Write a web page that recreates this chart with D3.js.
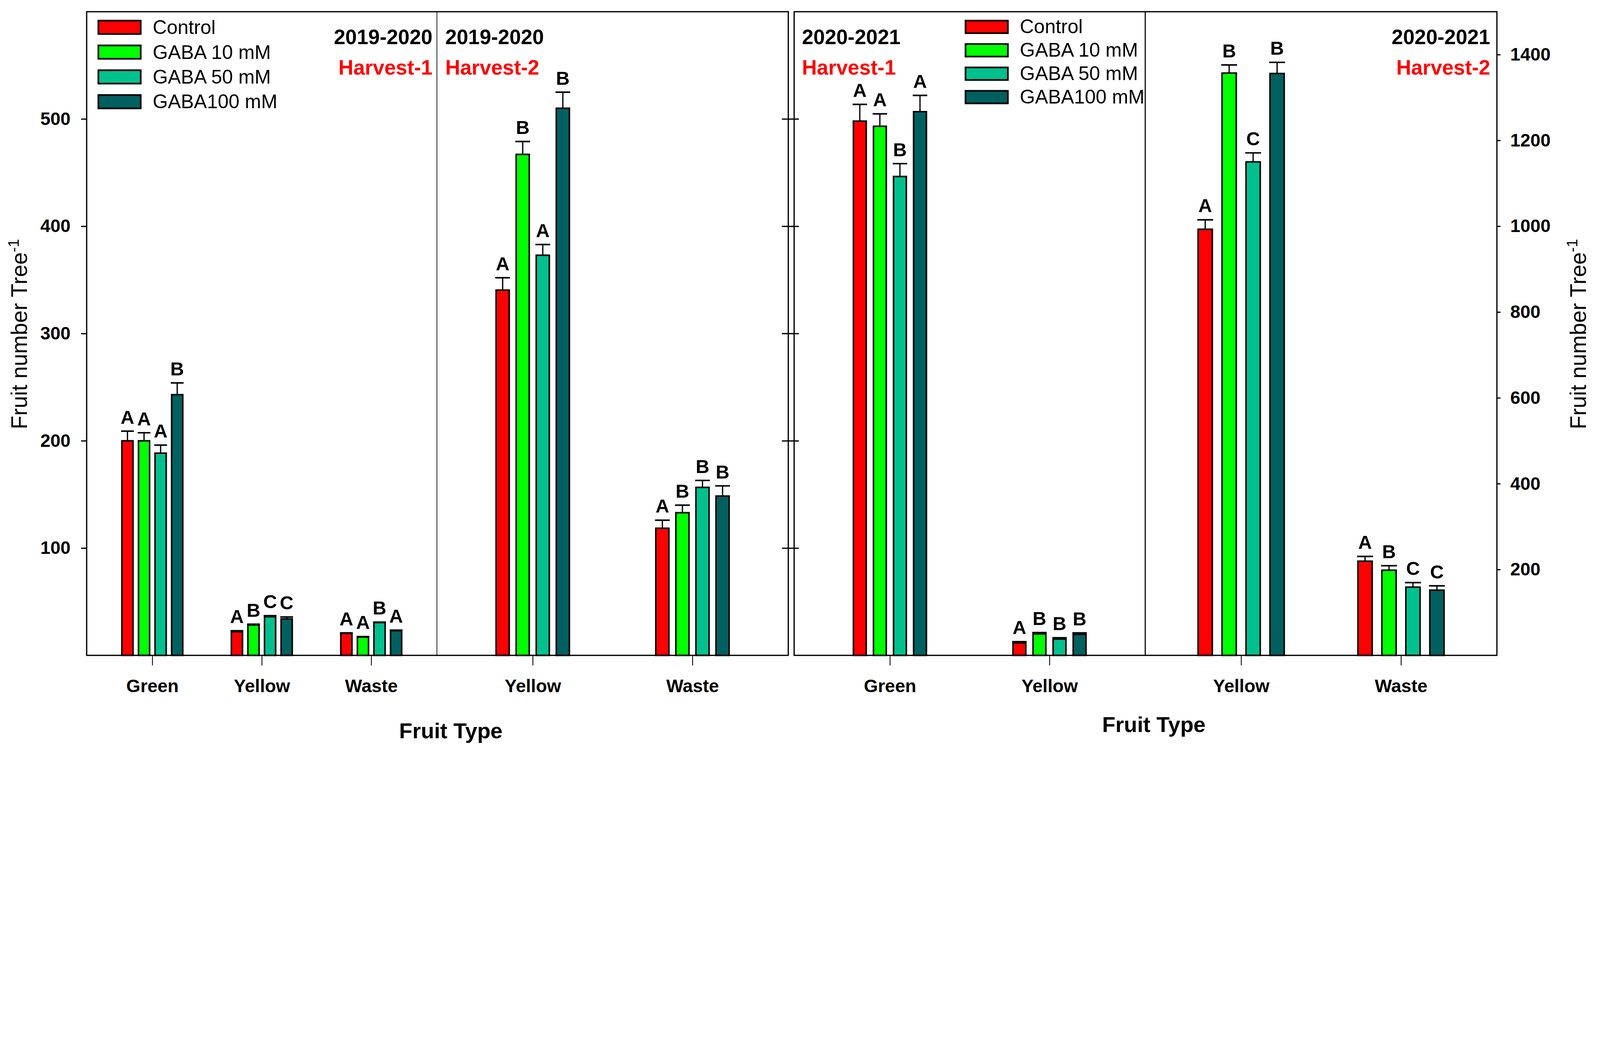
<!DOCTYPE html>
<html>
<head>
<meta charset="utf-8">
<title>Fruit number per tree</title>
<style>
  html, body { margin: 0; padding: 0; background: #fff; overflow: hidden; }
  svg { display: block; width: 100vw; height: 100vh; font-family: "Liberation Sans", Arial, sans-serif; }
</style>
</head>
<body>
<svg viewBox="0 0 5742 2706" preserveAspectRatio="xMinYMin meet"></svg>
<script src="https://d3js.org/d3.v7.min.js"></script>
<script>

// ---- data ----
var treatments = ["Control", "GABA 10 mM", "GABA 50 mM", "GABA100 mM"];
var colors = ["#ff0000", "#00ff00", "#00c08e", "#006060"];

// 2019-2020, Harvest-1 (left axis)
var h1aCats = ["Green", "Yellow", "Waste"];
var h1aMeans = [[200, 200, 188.5, 243], [22, 28.3, 36, 34], [20.5, 17, 30.6, 23]];
var h1aErrs = [[9, 7.5, 7.5, 11], [1, 0.8, 1, 1.8], [0.5, 0.5, 0.4, 0.5]];
var h1aLetters = [["A", "A", "A", "B"], ["A", "B", "C", "C"], ["A", "A", "B", "A"]];

// 2019-2020, Harvest-2 (left axis)
var h2aCats = ["Yellow", "Waste"];
var h2aMeans = [[340.5, 467, 373, 510], [118.5, 133, 156.6, 148.5]];
var h2aErrs = [[11.5, 12, 10, 15], [7.5, 7, 6.5, 9.5]];
var h2aLetters = [["A", "B", "A", "B"], ["A", "B", "B", "B"]];

// 2020-2021, Harvest-1 (right axis)
var h1bCats = ["Green", "Yellow"];
var h1bMeans = [[1245, 1233, 1116, 1267], [29, 50, 38, 49]];
var h1bErrs = [[39, 29, 30, 38], [3, 3, 3, 3.5]];
var h1bLetters = [["A", "A", "B", "A"], ["A", "B", "B", "B"]];

// 2020-2021, Harvest-2 (right axis)
var h2bCats = ["Yellow", "Waste"];
var h2bMeans = [[993, 1357, 1150, 1356], [219.5, 198.5, 159, 152]];
var h2bErrs = [[22, 19, 21, 26], [11, 10.5, 10.5, 10]];
var h2bLetters = [["A", "B", "C", "B"], ["A", "B", "C", "C"]];

var leftTicks = [100, 200, 300, 400, 500];
var rightTicks = [200, 400, 600, 800, 1000, 1200, 1400];

// ---- layout ----
var svg = d3.select("svg");
var plotTop = 42, base = 2352;

var yL = d3.scaleLinear().domain([0, 600]).range([base, plotTop]);
var yR = d3.scaleLinear().domain([0, 1500]).range([base, plotTop]);

var panels = [
  {cats: h1aCats, means: h1aMeans, errs: h1aErrs, letters: h1aLetters, x0: 311, x1: 1568, y: yL, step: 59.5, bw: 40},
  {cats: h2aCats, means: h2aMeans, errs: h2aErrs, letters: h2aLetters, x0: 1568, x1: 2829, y: yL, step: 72, bw: 47},
  {cats: h1bCats, means: h1bMeans, errs: h1bErrs, letters: h1bLetters, x0: 2850, x1: 4110, y: yR, step: 72, bw: 46},
  {cats: h2bCats, means: h2bMeans, errs: h2bErrs, letters: h2bLetters, x0: 4110, x1: 5372, y: yR, step: 86, bw: 51}
];

panels.forEach(function(p) {
  var x = d3.scalePoint().domain(p.cats).range([p.x0, p.x1]).padding(0.6);
  var sub = d3.scaleBand().domain(treatments)
      .range([-2 * p.step, 2 * p.step])
      .paddingInner(1 - p.bw / p.step)
      .paddingOuter((1 - p.bw / p.step) / 2);

  var rows = [];
  p.cats.forEach(function(c, i) {
    treatments.forEach(function(t, j) {
      rows.push({cat: c, t: t, j: j, v: p.means[i][j], e: p.errs[i][j], l: p.letters[i][j]});
    });
  });

  var g = svg.append("g");
  var cx = function(d) { return x(d.cat) + sub(d.t) + sub.bandwidth() / 2; };

  g.selectAll("rect").data(rows).enter().append("rect")
      .attr("x", function(d) { return x(d.cat) + sub(d.t); })
      .attr("y", function(d) { return p.y(d.v); })
      .attr("width", sub.bandwidth())
      .attr("height", function(d) { return base - p.y(d.v); })
      .attr("fill", function(d) { return colors[d.j]; })
      .attr("stroke", "#000")
      .attr("stroke-width", 5.5);

  g.selectAll(".err").data(rows).enter().append("line")
      .attr("class", "err")
      .attr("x1", cx).attr("x2", cx)
      .attr("y1", function(d) { return p.y(d.v); })
      .attr("y2", function(d) { return p.y(d.v + d.e); })
      .attr("stroke", "#000").attr("stroke-width", 4.5);

  g.selectAll(".cap").data(rows).enter().append("line")
      .attr("class", "cap")
      .attr("x1", function(d) { return cx(d) - sub.bandwidth() / 2 - 3; })
      .attr("x2", function(d) { return cx(d) + sub.bandwidth() / 2 + 3; })
      .attr("y1", function(d) { return p.y(d.v + d.e); })
      .attr("y2", function(d) { return p.y(d.v + d.e); })
      .attr("stroke", "#000").attr("stroke-width", 5.5);

  g.selectAll(".lab").data(rows).enter().append("text")
      .attr("class", "lab")
      .attr("x", cx)
      .attr("y", function(d) { return p.y(d.v + d.e) - 27; })
      .attr("text-anchor", "middle")
      .attr("font-size", 68).attr("font-weight", "bold")
      .text(function(d) { return d.l; });

  // category axis
  var ax = svg.append("g")
      .attr("transform", "translate(0," + base + ")")
      .call(d3.axisBottom(x).tickSize(36).tickPadding(50));
  ax.select(".domain").remove();
  ax.selectAll("line").attr("stroke-width", 3);
  ax.selectAll("text").attr("font-size", 65).attr("font-weight", "bold")
      .attr("font-family", "Liberation Sans, Arial, sans-serif");
});

// frames
function frame(x0, x1) {
  svg.append("rect").attr("x", x0).attr("y", plotTop)
      .attr("width", x1 - x0).attr("height", base - plotTop)
      .attr("fill", "none").attr("stroke", "#000").attr("stroke-width", 4.5);
}
frame(311, 2829);
frame(2850, 5372);
svg.append("line").attr("x1", 1568).attr("x2", 1568).attr("y1", plotTop).attr("y2", base)
    .attr("stroke", "#000").attr("stroke-width", 2.5);
svg.append("line").attr("x1", 4110).attr("x2", 4110).attr("y1", plotTop).attr("y2", base)
    .attr("stroke", "#000").attr("stroke-width", 4);

// value axes
var axL = svg.append("g").attr("transform", "translate(311,0)")
    .call(d3.axisLeft(yL).tickValues(leftTicks).tickSize(20).tickPadding(38).tickFormat(d3.format("d")));
axL.select(".domain").remove();
axL.selectAll("line").attr("stroke-width", 4.5);
axL.selectAll("text").attr("font-size", 65).attr("font-weight", "bold")
    .attr("font-family", "Liberation Sans, Arial, sans-serif");

var axM = svg.append("g").attr("transform", "translate(2806,0)")
    .call(d3.axisRight(yL).tickValues(leftTicks).tickSize(61).tickFormat(""));
axM.select(".domain").remove();
axM.selectAll("line").attr("stroke-width", 4.5);

var axR = svg.append("g").attr("transform", "translate(5372,0)")
    .call(d3.axisRight(yR).tickValues(rightTicks).tickSize(13).tickPadding(35).tickFormat(d3.format("d")));
axR.select(".domain").remove();
axR.selectAll("line").attr("stroke-width", 4.5);
axR.selectAll("text").attr("font-size", 65).attr("font-weight", "bold")
    .attr("font-family", "Liberation Sans, Arial, sans-serif");

// axis titles
function yTitle(x, y) {
  var t = svg.append("text")
      .attr("transform", "translate(" + x + "," + y + ") rotate(-90)")
      .attr("text-anchor", "middle")
      .attr("font-size", 80);
  t.append("tspan").text("Fruit number Tree");
  t.append("tspan").attr("font-size", 54).attr("dy", -30).text("-1");
}
yTitle(97, 1199);
yTitle(5691, 1199);

svg.append("text").attr("x", 1618).attr("y", 2650).attr("text-anchor", "middle")
    .attr("font-size", 78).attr("font-weight", "bold").text("Fruit Type");
svg.append("text").attr("x", 4141).attr("y", 2627).attr("text-anchor", "middle")
    .attr("font-size", 78).attr("font-weight", "bold").text("Fruit Type");

// panel titles
function title(x, anchor, season, harvest) {
  svg.append("text").attr("x", x).attr("y", 158).attr("text-anchor", anchor)
      .attr("font-size", 74).attr("font-weight", "bold").text(season);
  svg.append("text").attr("x", x).attr("y", 268).attr("text-anchor", anchor)
      .attr("font-size", 74).attr("font-weight", "bold").attr("fill", "#ff0000").text(harvest);
}
title(1552, "end", "2019-2020", "Harvest-1");
title(1598, "start", "2019-2020", "Harvest-2");
title(2878, "start", "2020-2021", "Harvest-1");
title(5348, "end", "2020-2021", "Harvest-2");

// legends
function legend(x, y0, dy, h) {
  var lg = svg.append("g");
  treatments.forEach(function(t, j) {
    var yy = y0 + j * dy;
    lg.append("rect").attr("x", x).attr("y", yy).attr("width", 152).attr("height", h)
        .attr("fill", colors[j]).attr("stroke", "#000").attr("stroke-width", 6);
    lg.append("text").attr("x", x + 195).attr("y", yy + h).attr("font-size", 70).text(t);
  });
}
legend(353, 74, 89, 48);
legend(3465, 74, 84, 45);

</script>
</body>
</html>
